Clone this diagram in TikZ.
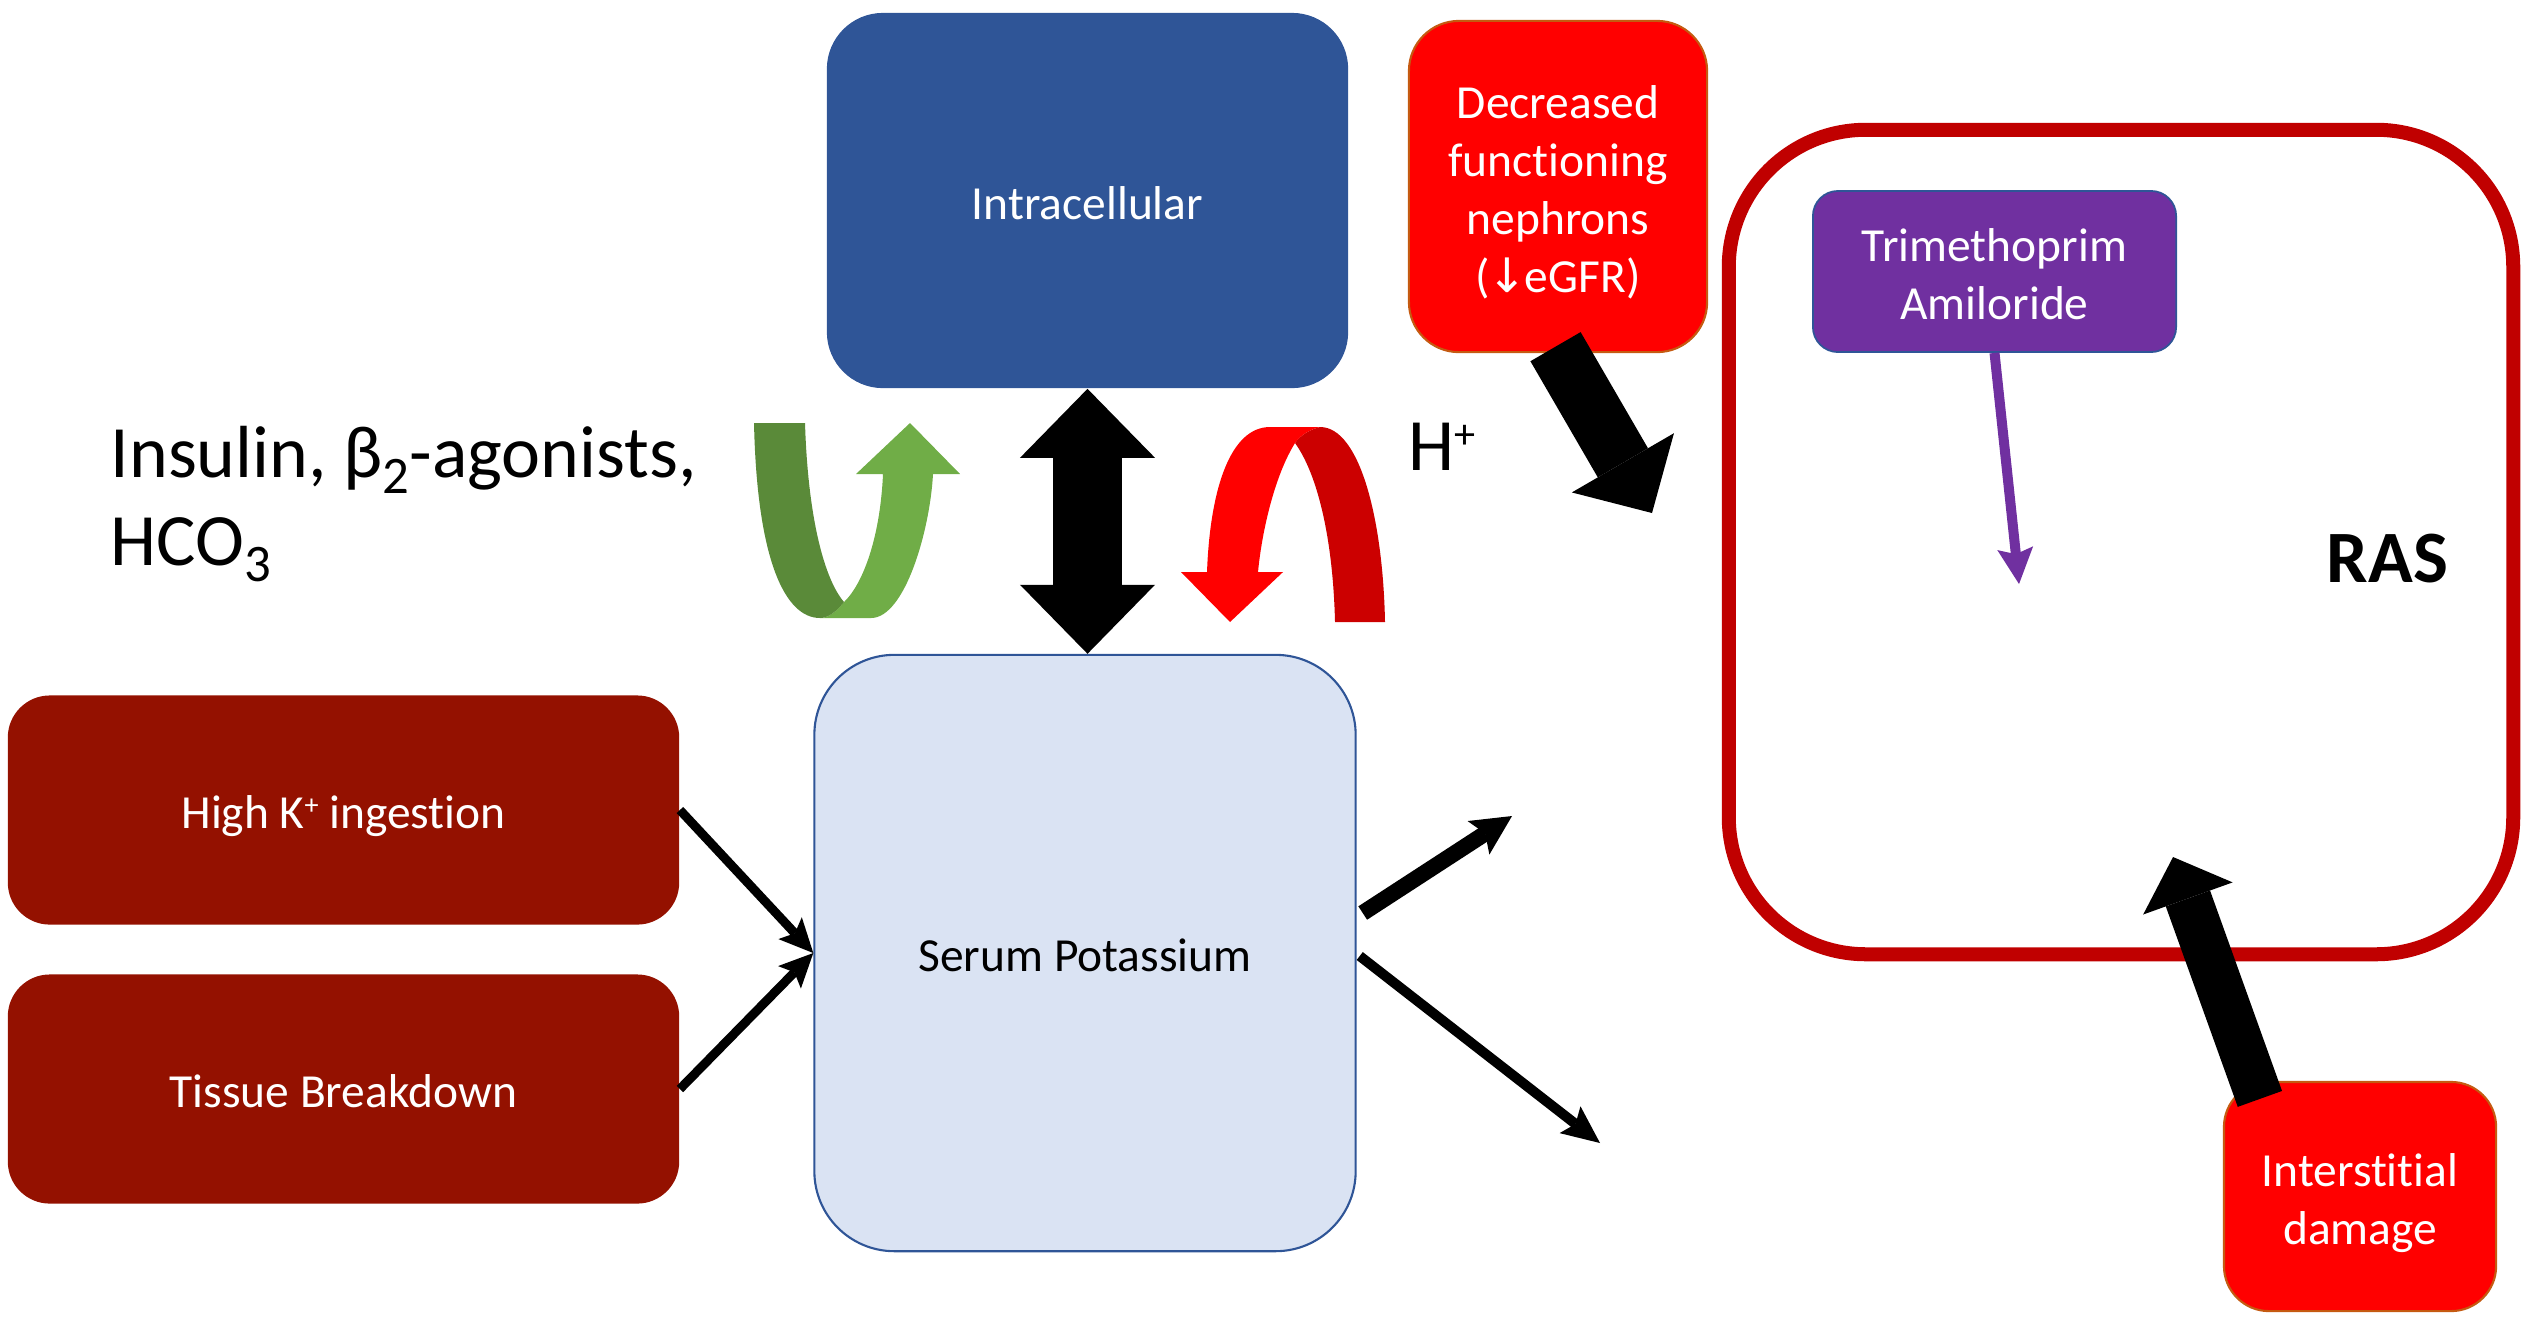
\documentclass[tikz,border=0pt]{standalone}
\usepackage{fontspec}
\setmainfont{Carlito}[Ligatures=NoCommon]
\newfontfamily\symfont{DejaVu Sans}
\usetikzlibrary{arrows.meta,calc}
\definecolor{intrablue}{HTML}{2F5597}
\definecolor{serumfill}{HTML}{DAE3F3}
\definecolor{darkbrick}{RGB}{148,17,0}
\definecolor{boxred}{HTML}{FF0000}
\definecolor{boxredline}{HTML}{C55A11}
\definecolor{purplebox}{HTML}{7030A0}
\definecolor{rasred}{HTML}{C00000}
\definecolor{greenlight}{HTML}{70AD47}
\definecolor{greendark}{HTML}{5A8A39}
\definecolor{archdark}{HTML}{CC0000}
% text lines of a box, lowered by #1 without changing the box size
\newcommand{\boxlines}[2][2pt]{\raisebox{-#1}[\height][\depth]{\begin{tabular}{@{}c@{}}#2\end{tabular}}}
\newcommand{\bigsub}[1]{\raisebox{-4.8pt}{\fontsize{15}{15}\selectfont #1}}
\newcommand{\bigsup}[1]{\raisebox{6pt}{\fontsize{12}{12}\selectfont #1}}
\newcommand{\smallsup}[1]{\raisebox{3.9pt}{\fontsize{8}{8}\selectfont #1}}
\begin{document}
\begin{tikzpicture}[x=0.01cm,y=-0.01cm,
  boxtext/.style={font=\fontsize{13.5}{16.5}\selectfont, inner sep=0pt},
  bigtext/.style={font=\fontsize{21}{25}\selectfont, inner sep=0pt, anchor=base west},
  thinarrow/.style={line width=0.09cm, -{Stealth[length=0.34cm,width=0.32cm,inset=0.07cm,line width=0pt]}},
  redbox/.style={boxtext, fill=boxred, draw=boxredline, line width=0.6pt, text=white},
  brickbox/.style={boxtext, fill=darkbrick, text=white, rounded corners=0.42cm, minimum width=6.71cm, minimum height=2.29cm}
]
\useasboundingbox (0,0) rectangle (2522,1317);

% boxes
\node[boxtext, fill=intrablue, text=white, rounded corners=0.56cm, minimum width=5.21cm, minimum height=3.75cm] (intra) at (1087.5,200.5) {\boxlines{Intracellular}};
\node[boxtext, fill=serumfill, draw=intrablue, line width=0.6pt, rounded corners=0.8cm, minimum width=5.41cm, minimum height=5.96cm] (serum) at (1085,953) {\boxlines{Serum Potassium}};
\node[brickbox] (highk) at (343.5,810) {\boxlines{High K\smallsup{+} ingestion}};
\node[brickbox] (tissue) at (343.5,1089) {\boxlines{Tissue Breakdown}};
\node[redbox, rounded corners=0.5cm, minimum width=2.98cm, minimum height=3.31cm] (decr) at (1558,186.5) {\boxlines{Decreased\\functioning\\nephrons\\(\kern-0.6pt{\symfont ↓}\kern-0.8pt eGFR)}};
\node[draw=rasred, line width=0.14cm, rounded corners=1.37cm, minimum width=7.84cm, minimum height=8.24cm, inner sep=0pt] (ras) at (2121,542) {};
\node[boxtext, fill=purplebox, draw=intrablue, line width=0.5pt, text=white, rounded corners=0.25cm, minimum width=3.63cm, minimum height=1.61cm] (tmp) at (1994.5,271.5) {\boxlines{Trimethoprim\\Amiloride}};
\node[redbox, rounded corners=0.45cm, minimum width=2.72cm, minimum height=2.29cm] (inter) at (2360,1196.5) {\boxlines{Interstitial\\damage}};

% texts
\node[font=\bfseries\fontsize{21}{25}\selectfont, inner sep=0pt, anchor=base west] (rastext) at (2326,582) {RAS};
\node[bigtext] (insulin) at (110,477) {Insulin, β\bigsub{2}-agonists,};
\node[bigtext] (hco) at (110,565) {HCO\bigsub{3}};
\node[bigtext] (hplus) at (1408,470) {H\bigsup{+}};

% curved green arrow
\fill[greenlight] (820,618) -- (871,618) .. controls (905,618) and (930,530) .. (933,474)
  -- (960,474) -- (910,423) -- (856,474) -- (883,474)
  .. controls (880,540) and (862,585) .. (844,602)
  .. controls (836,612) and (828,618) .. (820,618) -- cycle;
\fill[greendark] (754,423) -- (805,423) .. controls (808,520) and (825,580) .. (844,602)
  .. controls (836,612) and (828,618) .. (820,618)
  .. controls (785,618) and (757,560) .. (754,423) -- cycle;

% curved red arrow
\fill[archdark] (1320,427) .. controls (1360,427) and (1383,520) .. (1385,622) -- (1335,622)
  .. controls (1333,540) and (1318,475) .. (1295,443)
  .. controls (1300,436) and (1308,430) .. (1320,427) -- cycle;
\fill[boxred] (1207,572) .. controls (1210,490) and (1230,427) .. (1270,427) -- (1320,427)
  .. controls (1308,430) and (1300,436) .. (1295,443)
  .. controls (1275,475) and (1262,530) .. (1258,572)
  -- (1283,572) -- (1230,622) -- (1181,572) -- cycle;

% double arrow
\draw[line width=0.68cm, {Triangle[length=0.69cm,width=1.35cm,line width=0pt]}-{Triangle[length=0.69cm,width=1.35cm,line width=0pt]}] (intra.south) -- (intra.south |- serum.north);

% block arrows
\coordinate (decrtip) at (1652,513);
\draw[line width=0.58cm, -{Triangle[length=0.58cm,width=1.18cm,line width=0pt]}] ($(decr.south)+(-2.5,-6.5)$) -- (decrtip);
\coordinate (intertip) at (2173,857);
\draw[line width=0.47cm, -{Triangle[length=0.44cm,width=0.95cm,line width=0pt]}] ($(inter.north west)+(37,18)$) -- (intertip);

% purple arrow
\coordinate (tmptip) at (2019,584);
\draw[purplebox, line width=0.1cm, -{Stealth[length=0.36cm,width=0.36cm,inset=0.06cm,line width=0pt]}] (tmp.south) -- (tmptip);

% thin arrows
\draw[thinarrow] (highk.east) -- (serum.west);
\draw[thinarrow] (tissue.east) -- (serum.west);
\coordinate (outup) at (1512,816);
\coordinate (outdown) at (1600,1143);
\draw[line width=0.16cm, -{Stealth[length=0.4cm,width=0.4cm,inset=0.08cm,line width=0pt]}] ($(serum.east)+(6,-40)$) -- (outup);
\draw[line width=0.1cm, -{Stealth[length=0.38cm,width=0.34cm,inset=0.07cm,line width=0pt]}] ($(serum.east)+(3,3)$) -- (outdown);
\end{tikzpicture}
\end{document}
